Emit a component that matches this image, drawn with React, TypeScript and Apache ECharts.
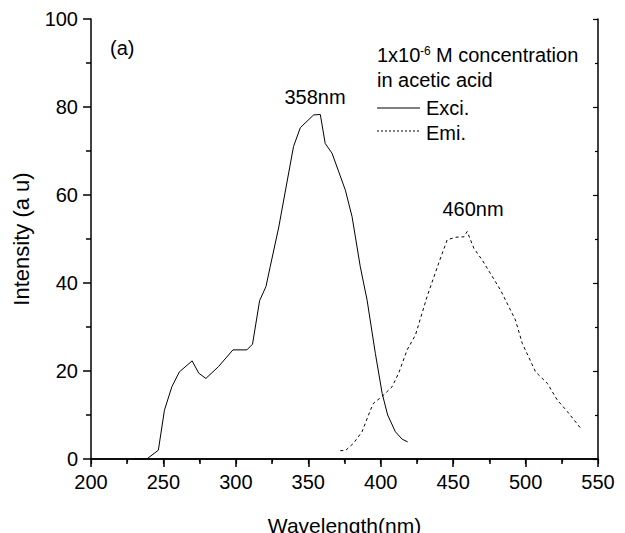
import React, { useEffect, useRef } from "react";
import * as echarts from "echarts";

const exciWavelength = [230, 238.5, 246.5, 250.7, 255.8, 261, 269.8, 274.4, 279.3, 288, 298, 307.6, 311.5, 316.4, 320.8, 323.7, 329.5, 339.8, 344.5, 353.7, 358.3, 361.7, 366.4, 375.6, 380.2, 385.9, 390.6, 396.3, 401, 404.8, 410.1, 414.8, 418.6];
const exciIntensity = [0, 0, 2.0, 11.1, 16.4, 19.8, 22.3, 19.5, 18.3, 21, 24.8, 24.8, 26.1, 36, 39.2, 43.7, 52.5, 71, 75.3, 78.2, 78.3, 71.7, 69.5, 61.1, 55.1, 43.7, 36.1, 24, 14.9, 10, 6.2, 4.5, 3.9];

const emiWavelength = [372.1, 375.6, 381.3, 387.1, 392.9, 395.1, 400.9, 407.8, 412.4, 418.2, 424, 432, 440, 445.9, 451.6, 457.4, 459.7, 464.3, 470.1, 482.7, 493, 497.7, 506.9, 515, 521.9, 528.8, 538];
const emiIntensity = [1.9, 1.9, 3.6, 6.2, 11.1, 12.7, 14.2, 16.4, 19.5, 24.8, 28.2, 36.9, 44.5, 49.8, 50.4, 50.5, 51.7, 47.9, 45.2, 38.4, 31.6, 26.3, 19.8, 17.2, 13.4, 10.8, 7];

const xTicks = [200, 250, 300, 350, 400, 450, 500, 550];
const yTicks = [0, 20, 40, 60, 80, 100];

const FONT = "'Liberation Sans', Arial, sans-serif";

export default function App() {
  const ref = useRef<HTMLDivElement>(null);
  useEffect(() => {
    if (!ref.current) return;
    const chart = echarts.init(ref.current, null, { renderer: "svg" });
    const exci = exciWavelength.map((x, i) => [x, exciIntensity[i]]);
    const emi = emiWavelength.map((x, i) => [x, emiIntensity[i]]);
    const axisLine = { lineStyle: { color: "#000", width: 1.5 } };
    const txt = (text: string, x: number, y: number, size = 20, align = "left") => ({
      type: "text",
      x,
      y,
      style: { text, fontSize: size, fontFamily: FONT, fill: "#000", align, verticalAlign: "bottom" },
    });
    chart.setOption({
      animation: false,
      backgroundColor: "#fff",
      textStyle: { fontFamily: FONT },
      grid: { left: 91, right: 27, top: 19, bottom: 74, containLabel: false, outerBoundsMode: "none" },
      xAxis: [
        {
          type: "value",
          min: xTicks[0],
          max: xTicks[xTicks.length - 1],
          interval: 50,
          position: "bottom",
          axisLine,
          axisTick: { show: true, inside: false, length: 8, lineStyle: { color: "#000", width: 1.5 } },
          minorTick: { show: true, splitNumber: 2, length: 5, lineStyle: { color: "#000", width: 1.5 } },
          splitLine: { show: false },
          axisLabel: { color: "#000", fontSize: 20, fontFamily: FONT, margin: 13 },
          name: "Wavelength(nm)",
          nameLocation: "middle",
          nameGap: 56,
          nameTextStyle: { color: "#000", fontSize: 21, fontFamily: FONT },
        },
        {
          type: "value",
          min: xTicks[0],
          max: xTicks[xTicks.length - 1],
          interval: 50,
          position: "top",
          axisLine,
          axisTick: { show: true, inside: true, length: 5, lineStyle: { color: "#000", width: 1.2 } },
          minorTick: { show: true, splitNumber: 2, length: 3, lineStyle: { color: "#000", width: 1.2 } },
          splitLine: { show: false },
          axisLabel: { show: false },
        },
      ],
      yAxis: [
        {
          type: "value",
          min: yTicks[0],
          max: yTicks[yTicks.length - 1],
          interval: 20,
          position: "left",
          axisLine,
          axisTick: { show: true, inside: false, length: 8, lineStyle: { color: "#000", width: 1.5 } },
          minorTick: { show: true, splitNumber: 2, length: 5, lineStyle: { color: "#000", width: 1.5 } },
          splitLine: { show: false },
          axisLabel: { color: "#000", fontSize: 20, fontFamily: FONT, margin: 13 },
          name: "Intensity (a u)",
          nameLocation: "middle",
          nameGap: 59,
          nameRotate: 90,
          nameTextStyle: { color: "#000", fontSize: 22, fontFamily: FONT },
        },
        {
          type: "value",
          min: yTicks[0],
          max: yTicks[yTicks.length - 1],
          interval: 20,
          position: "right",
          axisLine,
          axisTick: { show: true, inside: true, length: 5, lineStyle: { color: "#000", width: 1.2 } },
          minorTick: { show: true, splitNumber: 2, length: 3, lineStyle: { color: "#000", width: 1.2 } },
          splitLine: { show: false },
          axisLabel: { show: false },
        },
      ],
      series: [
        {
          name: "Exci.",
          type: "line",
          data: exci,
          showSymbol: false,
          xAxisIndex: 0,
          yAxisIndex: 0,
          lineStyle: { color: "#000", width: 1 },
        },
        {
          name: "Emi.",
          type: "line",
          data: emi,
          showSymbol: false,
          xAxisIndex: 0,
          yAxisIndex: 0,
          lineStyle: { color: "#000", width: 1, type: [3, 3] },
        },
      ],
      graphic: [
        txt("(a)", 110, 58),
        txt("358nm", 315, 107, 20, "center"),
        txt("460nm", 473, 219, 20, "center"),
        txt("1x10", 377, 65),
        txt("-6", 420, 57, 12),
        txt("M concentration", 436, 65),
        txt("in acetic acid", 377, 90),
        { type: "line", shape: { x1: 377, y1: 108, x2: 420, y2: 108 }, style: { stroke: "#000", lineWidth: 1 } },
        txt("Exci.", 426, 118),
        { type: "line", shape: { x1: 377, y1: 131, x2: 420, y2: 131 }, style: { stroke: "#000", lineWidth: 1, lineDash: [2, 2] } },
        txt("Emi.", 426, 143),
      ],
    });
    return () => chart.dispose();
  }, []);
  return <div ref={ref} style={{ width: 625, height: 533, position: "absolute", left: 0, top: 0 }} />;
}
